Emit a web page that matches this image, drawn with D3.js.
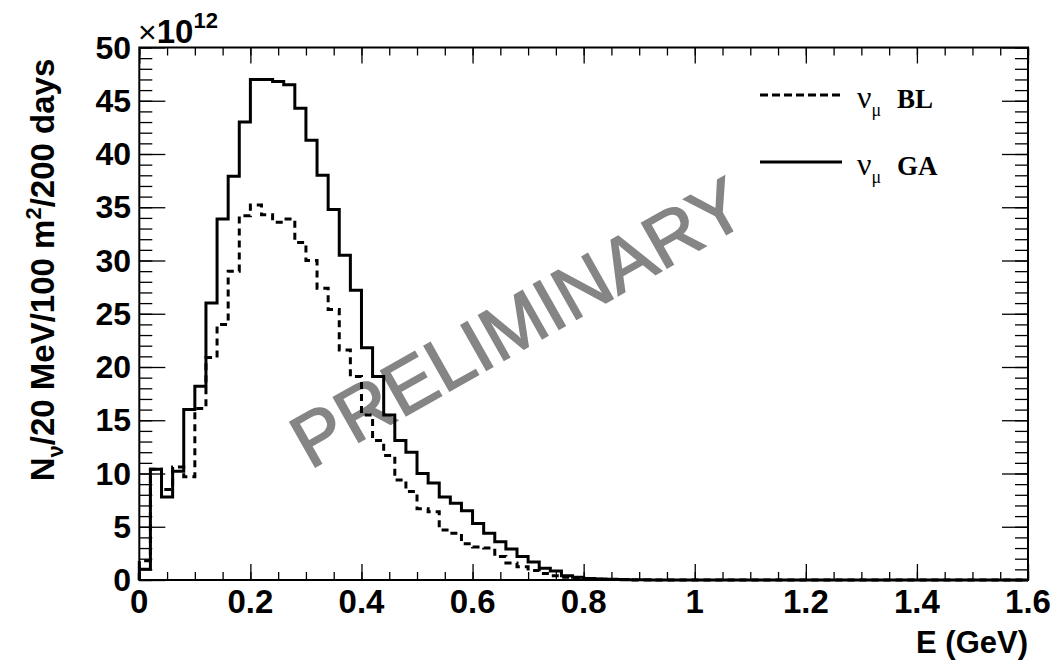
<!DOCTYPE html>
<html><head><meta charset="utf-8">
<script src="https://cdn.jsdelivr.net/npm/d3@7"></script>
<style>
body{margin:0;background:#fff;}
svg{display:block;}
.sans{font-family:"Liberation Sans",Arial,Helvetica,sans-serif;}
.serif{font-family:"Liberation Serif","Times New Roman",serif;}
</style></head>
<body><svg id="c" width="1059" height="664"></svg>
<script>
// Data: 20 MeV bins from 0 to 1.6 GeV (values in units of 1e12)
const binEdgesStart = 0, binWidth = 0.02;
const gaValues = [1.0,10.4,7.8,10.2,16.0,18.2,26.0,33.9,37.9,43.0,
  47.0,47.0,46.8,46.5,44.3,41.3,38.0,34.8,30.5,27.2,
  21.8,19.1,15.5,13.1,12.0,10.0,9.1,7.8,7.2,6.5,
  5.3,4.4,3.6,2.9,2.2,1.7,1.1,0.85,0.4,0.25,
  0.15,0.1,0.07,0.05,0.03,0.02,0.01,0.01,0,0,
  0,0,0,0,0,0,0,0,0,0, 0,0,0,0,0,0,0,0,0,0, 0,0,0,0,0,0,0,0,0,0];
const blValues = [1.8,10.4,8.5,10.6,9.7,16.1,20.9,24.0,29.0,34.2,
  35.2,34.3,33.6,33.9,31.7,30.0,27.4,25.4,21.6,19.1,
  15.5,13.1,11.7,9.4,8.3,6.7,6.4,4.7,4.4,3.4,
  3.1,3.0,2.2,1.6,1.25,0.9,0.6,0.4,0.25,0.15,
  0.1,0.06,0.04,0.02,0.01,0,0,0,0,0,
  0,0,0,0,0,0,0,0,0,0, 0,0,0,0,0,0,0,0,0,0, 0,0,0,0,0,0,0,0,0,0];
const xTickValues = [0,0.2,0.4,0.6,0.8,1.0,1.2,1.4,1.6];
const xTickLabels = ["0","0.2","0.4","0.6","0.8","1","1.2","1.4","1.6"];
const yTickValues = [0,5,10,15,20,25,30,35,40,45,50];
const yTickLabels = ["0","5","10","15","20","25","30","35","40","45","50"];
const legendLabels = ["BL","GA"];

const L = 139.3, R = 1028, T = 47.5, B = 580;
const svg = d3.select("#c");
const x = d3.scaleLinear().domain([0,1.6]).range([L,R]);
const y = d3.scaleLinear().domain([0,50]).range([B,T]);

const xMinor = d3.range(0,33).map(i=>i*0.05);
const yMinor = d3.range(0,51);

function styleAxis(g){ g.select(".domain").remove(); g.selectAll("line").attr("stroke","#000").attr("stroke-width",1.3); }

svg.append("g").attr("transform",`translate(0,${B})`).call(d3.axisBottom(x).tickValues(xMinor).tickSize(-8).tickFormat("")).call(styleAxis);
svg.append("g").attr("transform",`translate(0,${B})`).call(d3.axisBottom(x).tickValues(xTickValues).tickSize(-16).tickFormat("")).call(styleAxis);
svg.append("g").attr("transform",`translate(0,${T})`).call(d3.axisTop(x).tickValues(xMinor).tickSize(-8).tickFormat("")).call(styleAxis);
svg.append("g").attr("transform",`translate(0,${T})`).call(d3.axisTop(x).tickValues(xTickValues).tickSize(-16).tickFormat("")).call(styleAxis);
svg.append("g").attr("transform",`translate(${L},0)`).call(d3.axisLeft(y).tickValues(yMinor).tickSize(-13).tickFormat("")).call(styleAxis);
svg.append("g").attr("transform",`translate(${L},0)`).call(d3.axisLeft(y).tickValues(yTickValues).tickSize(-26).tickFormat("")).call(styleAxis);
svg.append("g").attr("transform",`translate(${R},0)`).call(d3.axisRight(y).tickValues(yMinor).tickSize(-13).tickFormat("")).call(styleAxis);
svg.append("g").attr("transform",`translate(${R},0)`).call(d3.axisRight(y).tickValues(yTickValues).tickSize(-26).tickFormat("")).call(styleAxis);

// tick labels
svg.append("g").attr("class","sans").selectAll("text").data(xTickValues).join("text")
  .attr("x",d=>x(d)).attr("y",613).attr("text-anchor","middle")
  .attr("font-size",33).attr("font-weight","bold").text((d,i)=>xTickLabels[i]);
svg.append("g").attr("class","sans").selectAll("text").data(yTickValues).join("text")
  .attr("x",131).attr("y",d=>y(d)+11).attr("text-anchor","end")
  .attr("font-size",32).attr("font-weight","bold").text((d,i)=>yTickLabels[i]);

// exponent
const ex = svg.append("text").attr("class","sans").attr("x",138).attr("y",43);
ex.append("tspan").attr("font-size",32).text("×");
ex.append("tspan").attr("font-size",33).attr("font-weight","bold").text("10");
ex.append("tspan").attr("font-size",22).attr("font-weight","bold").attr("dy",-15).text("12");

// watermark
svg.append("text").attr("class","sans").attr("transform","translate(310,470) rotate(-29.5)")
  .attr("font-size",75).attr("fill","#7f7f7f").attr("stroke","#7f7f7f").attr("stroke-width",1.6)
  .attr("opacity",0.95).text("PRELIMINARY");

// histograms
function pts(vals){ const p=[[0,0]]; vals.forEach((v,i)=>p.push([binEdgesStart+i*binWidth,v])); p.push([1.6,vals[vals.length-1]]); return p; }
const line = d3.line().x(d=>x(d[0])).y(d=>y(d[1])).curve(d3.curveStepAfter);
svg.append("path").attr("d",line(pts(blValues))).attr("fill","none").attr("stroke","#000").attr("stroke-width",3).attr("stroke-dasharray","7,5");
svg.append("path").attr("d",line(pts(gaValues))).attr("fill","none").attr("stroke","#000").attr("stroke-width",3);

// frame
svg.append("rect").attr("x",L).attr("y",T).attr("width",R-L).attr("height",B-T).attr("fill","none").attr("stroke","#000").attr("stroke-width",2);

// axis titles
svg.append("text").attr("class","sans").attr("x",1028).attr("y",653).attr("text-anchor","end").attr("font-size",31).attr("font-weight","bold").text("E (GeV)");
const yt = svg.append("text").attr("class","sans").attr("transform","translate(54,270) rotate(-90)").attr("text-anchor","middle").attr("font-size",33).attr("font-weight","bold");
yt.append("tspan").text("N");
yt.append("tspan").attr("font-size",22).attr("dy",9).text("ν");
yt.append("tspan").attr("dy",-9).text("/20 MeV/100 m");
yt.append("tspan").attr("font-size",22).attr("dy",-13).text("2");
yt.append("tspan").attr("dy",13).text("/200 days");

// legend
const legY = [95,162];
const legDash = ["8,4",null];
legY.forEach((ly,i)=>{
  const l = svg.append("line").attr("x1",760).attr("x2",842).attr("y1",ly).attr("y2",ly).attr("stroke","#000").attr("stroke-width",3);
  if(legDash[i]) l.attr("stroke-dasharray",legDash[i]);
  const t = svg.append("text").attr("class","serif").attr("x",857).attr("y",ly+13);
  t.append("tspan").attr("font-size",32).text("ν");
  t.append("tspan").attr("font-size",18).attr("dy",8).text("μ");
  t.append("tspan").attr("x",897).attr("dy",-8).attr("font-size",27).attr("font-weight","bold").text(legendLabels[i]);
});
</script></body></html>
